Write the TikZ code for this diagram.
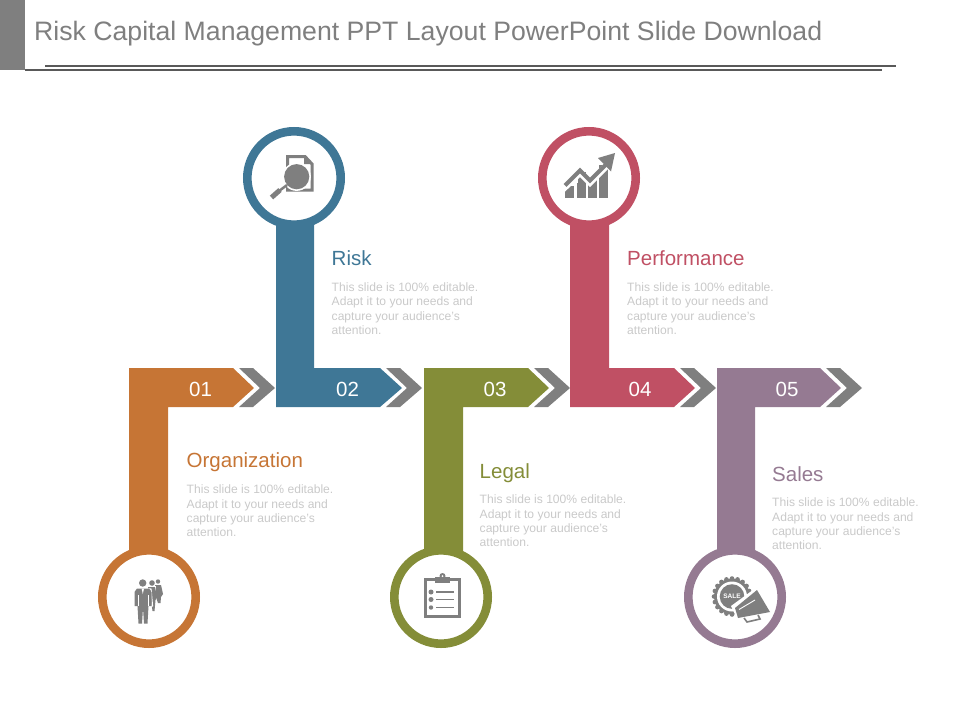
\documentclass[tikz,border=0pt]{standalone}
\usepackage{fontspec}
\setmainfont{Liberation Sans}
\definecolor{corg}{HTML}{C67535}
\definecolor{cblu}{HTML}{3F7796}
\definecolor{coli}{HTML}{848D38}
\definecolor{cred}{HTML}{C05064}
\definecolor{cpur}{HTML}{957A92}
\definecolor{cgry}{HTML}{7F7F7F}
\definecolor{cbody}{HTML}{C9C9C9}
\newcommand{\chevron}[1]{\fill[cgry] (#1+6,368)--(#1+20,368)--(#1+42,388)--(#1+20,407)--(#1+6,407)--(#1+27,388)--cycle;}
\newcommand{\bodytext}{This slide is 100\% editable.\\Adapt it to your needs and\\capture your audience’s\\attention.}
\tikzset{
  x=1pt,y=-1pt,
  ring/.style={draw=#1,line width=8.6pt,fill=white},
  num/.style={text=white,font=\fontsize{20.5}{24}\selectfont,inner sep=0pt,anchor=center},
  head/.style={text=#1,font=\fontsize{20.5}{24}\selectfont,inner sep=0pt,anchor=base west},
  para/.style={text=cbody,font=\fontsize{12.1}{14.3}\selectfont,inner sep=0pt,anchor=north west,align=left},
  ico/.style={fill=cgry,draw=none},
  icol/.style={draw=cgry,fill=none}
}
\begin{document}
\begin{tikzpicture}
\useasboundingbox (0,0) rectangle (960,720);
% header
\fill[cgry] (0,0) rectangle (25,70);
\node[text=cgry,font=\fontsize{26.65}{32}\selectfont,inner sep=0pt,anchor=base west] (title) at (34,40) {Risk Capital Management PPT Layout PowerPoint Slide Download};
\draw[line width=2pt,color=black!65] (45,66)--(896,66);
\draw[line width=2pt,color=black!65] (25,70)--(882,70);
% chevrons
\chevron{233}\chevron{380}\chevron{528}\chevron{674}\chevron{820}
% arms
\fill[corg] (129,368)--(233,368)--(254,388)--(233,407)--(168,407)--(168,560)--(129,560)--cycle;
\fill[cblu] (276,407)--(276,220)--(314,220)--(314,368)--(380,368)--(402,388)--(380,407)--cycle;
\fill[coli] (424,368)--(528,368)--(549,388)--(528,407)--(463,407)--(463,560)--(424,560)--cycle;
\fill[cred] (570,407)--(570,220)--(609,220)--(609,368)--(674,368)--(695,388)--(674,407)--cycle;
\fill[cpur] (717,368)--(820,368)--(841,388)--(820,407)--(755,407)--(755,560)--(717,560)--cycle;
% rings
\draw[ring=corg] (149,597) circle[radius=46.7];
\draw[ring=cblu] (294,178) circle[radius=46.7];
\draw[ring=coli] (441,597) circle[radius=46.7];
\draw[ring=cred] (589,178) circle[radius=46.7];
\draw[ring=cpur] (735,597) circle[radius=46.7];
% numbers
\node[num] (n1) at (200.5,389) {01};
\node[num] (n2) at (347.5,389) {02};
\node[num] (n3) at (495,389) {03};
\node[num] (n4) at (640,389) {04};
\node[num] (n5) at (787,389) {05};
% labels
\node[head=cblu] (h2) at (331.5,265) {Risk};
\node[para] (p2) at (331.5,282.5) {\bodytext};
\node[head=cred] (h4) at (627,265) {Performance};
\node[para] (p4) at (627,282.5) {\bodytext};
\node[head=corg] (h1) at (186.5,467) {Organization};
\node[para] (p1) at (186.5,485) {\bodytext};
\node[head=coli] (h3) at (479.5,478) {Legal};
\node[para] (p3) at (479.5,495) {\bodytext};
\node[head=cpur] (h5) at (772,481) {Sales};
\node[para] (p5) at (772,498) {\bodytext};
% icon: document and magnifier
\draw[icol,line width=3pt,line join=miter] (287.5,156.5)--(305,156.5)--(312,164)--(312,190)--(287.5,190)--cycle;
\fill[cgry] (304,155)--(313,164)--(304,164)--cycle;
\fill[white] (296.7,176.7) circle[radius=14.2];
\fill[cgry] (296.7,176.7) circle[radius=12.6];
\draw[cgry,line width=5pt] (271.5,197.5)--(280,190);
\draw[cgry,line width=2.5pt] (279,191)--(287,185);
% icon: chart
\fill[ico] (565,198) rectangle (573.5,186);
\fill[ico] (577,198) rectangle (585.5,172);
\fill[ico] (588,198) rectangle (596.5,178);
\fill[ico] (599,198) rectangle (607.5,165);
\draw[white,line width=6.5pt,line join=miter] (560,192)--(580,172.5)--(590,182.5)--(610,162.5);
\fill[white] (560,160) rectangle (578,183);
\fill[white] (585.7,160) rectangle (598.8,174);
\fill[white] (596.2,150) rectangle (620,160);
\draw[cgry,line width=4.2pt,line join=miter] (565,185.5)--(580,170.5)--(590,180.5)--(607,163.5);
\fill[ico] (615,153)--(598,158)--(611,171.5)--cycle;
% icon: people
\fill[ico] (158,581.5) circle[radius=2.2];
\fill[ico] (155,585)--(161,585)--(163,594)--(161,597)--(160.5,603)--(158,603)--(156,597)--cycle;
\fill[ico] (152,583) circle[radius=2.8];
\fill[white] (149,586)--(155.6,586)--(155.6,608)--(149,608)--cycle;
\fill[ico] (148,587)--(155,587)--(157,597)--(155.5,600)--(154.5,611)--(152.5,611)--(151,600)--(148,600)--cycle;
\fill[white] (142.7,583) circle[radius=4.6];
\draw[white,line width=1.2pt,line join=round] (135.5,589)--(151,589)--(152.5,606)--(149.5,606)--(149,624);
\fill[ico] (142.7,583) circle[radius=3.7];
\fill[ico] (137,588.5)--(149,588.5)--(151.5,592)--(151.5,606)--(148.5,606)--(147.5,623.5)--(144,623.5)--(143,608)--(142,623.5)--(138.5,623.5)--(137.5,606)--(134.5,606)--(134.5,592)--cycle;
\draw[white,line width=.6pt] (137.8,595)--(137.8,606);
\draw[white,line width=.6pt] (148.2,595)--(148.2,606);
\fill[white] (141.6,588.5)--(144,588.5)--(142.8,594)--cycle;
% icon: clipboard
\draw[icol,line width=3pt] (435,579)--(425.5,579)--(425.5,616.5)--(459.5,616.5)--(459.5,579)--(450,579);
\fill[ico] (435,577) rectangle (450,583);
\fill[ico] (442.5,576) circle[radius=3];
\fill[white] (442.5,576) circle[radius=1];
\fill[ico] (431,592) circle[radius=2.5];
\fill[ico] (431,599.5) circle[radius=2.5];
\fill[ico] (431,607.5) circle[radius=2.2];
\draw[cgry,line width=1.7pt] (436,592)--(454,592);
\draw[cgry,line width=1.7pt] (436,599.5)--(454,599.5);
\draw[cgry,line width=1.7pt] (436,607.5)--(454,607.5);
% icon: sale badge and megaphone
\foreach \a in {0,18,...,342}{\fill[cgry] (732,596.5) ++(\a:18) circle[radius=2.3];}
\fill[cgry] (732,596.5) circle[radius=18];
\fill[white] (732,596.5) circle[radius=15];
\fill[ico] (732,596.5) circle[radius=12.3];
\node[text=white,font=\bfseries\fontsize{6.5}{7}\selectfont,inner sep=0pt] (sale) at (732,596) {SALE};
\fill[white] (731,606)--(757,587)--(773,615)--(738,621)--cycle;
\fill[ico] (735,608)--(757,590)--(770,612)--(738,618)--cycle;
\draw[white,line width=0.9pt] (739,609.5)--(755,600);
\draw[cgry,line width=1.6pt] (744,618)--(747,622)--(760,619)--(758,615);
\end{tikzpicture}
\end{document}
